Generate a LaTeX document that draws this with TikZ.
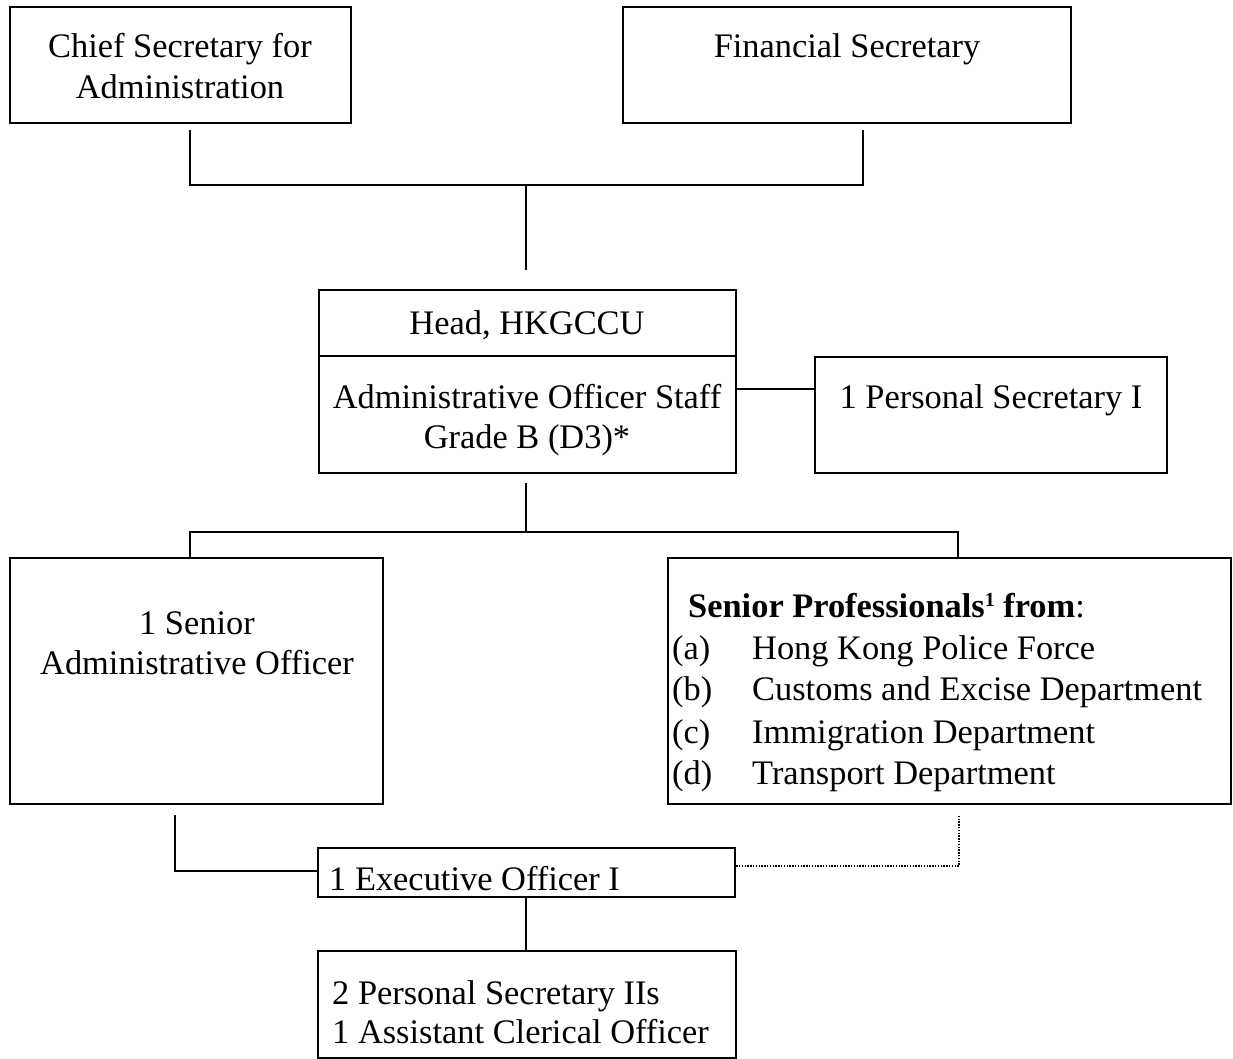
\documentclass[tikz,border=0pt]{standalone}
\usepackage{fontspec}
\setmainfont{Liberation Serif}
\usetikzlibrary{fit}
\begin{document}
\begin{tikzpicture}[x=1pt,y=-1pt,
  orgbox/.style={draw, line width=2.4pt, inner sep=0pt},
  conn/.style={line width=1.5pt},
  dotconn/.style={line width=1.4pt, dash pattern=on 1.4pt off 1.4pt},
  lbl/.style={anchor=base, inner sep=0pt, font=\fontsize{34.4}{40}\selectfont},
  lblw/.style={anchor=base west, inner sep=0pt, font=\fontsize{34.4}{40}\selectfont}]
\useasboundingbox (0,0) rectangle (1233,1059);

% boxes
\node[orgbox, fit={(10,7) (351,123)}] (cs) {};
\node[orgbox, fit={(623,7) (1071,123)}] (fs) {};
\node[orgbox, fit={(319,290) (736,356)}] (headtop) {};
\node[orgbox, fit={(319,356) (736,473)}] (headbot) {};
\node[orgbox, fit={(815,357) (1167,473)}] (ps) {};
\node[orgbox, fit={(10,558) (383,804)}] (sao) {};
\node[orgbox, fit={(668,558) (1231,804)}] (sp) {};
\node[orgbox, fit={(318,848) (735,897)}] (eo) {};
\node[orgbox, fit={(318,951) (736,1058)}] (bot) {};

% texts
\node[lbl] (t1) at (180,58) {Chief Secretary for};
\node[lbl] (t2) at (180,99) {Administration};
\node[lbl] (t3) at (847,58) {Financial Secretary};
\node[lbl] (t4) at (527,334) {Head, HKGCCU};
\node[lbl] (t5) at (527,408) {Administrative Officer Staff};
\node[lbl] (t6) at (527,448) {Grade B (D3)*};
\node[lbl] (t7) at (991,408) {1 Personal Secretary I};
\node[lbl] (t8) at (197,634) {1 Senior};
\node[lbl] (t9) at (197,674) {Administrative Officer};
\node[lblw] (t10) at (688,617) {\textbf{Senior Professionals\raisebox{11pt}{\fontsize{20}{20}\selectfont 1} from}:};
\node[lblw] (t11a) at (672,659) {(a)};
\node[lblw] (t11) at (752,659) {Hong Kong Police Force};
\node[lblw] (t12a) at (672,700) {(b)};
\node[lblw] (t12) at (752,700) {Customs and Excise Department};
\node[lblw] (t13a) at (672,743) {(c)};
\node[lblw] (t13) at (752,743) {Immigration Department};
\node[lblw] (t14a) at (672,784) {(d)};
\node[lblw] (t14) at (752,784) {Transport Department};
\node[lblw] (t15) at (329,890) {1 Executive Officer I};
\node[lblw] (t16) at (332,1004) {2 Personal Secretary IIs};
\node[lblw] (t17) at (332,1043) {1 Assistant Clerical Officer};

% junction coordinates
\coordinate (csdown) at (190,130);
\coordinate (fsdown) at (863,130);
\coordinate (topbar) at (526,185);
\coordinate (headup) at (526,270);
\coordinate (headdown) at (526,483);
\coordinate (midbar) at (526,532);
\coordinate (saodown) at (175,815);
\coordinate (spdown) at (959,815);

% connectors
\draw[conn] (csdown) -- (csdown |- topbar) -- (fsdown |- topbar) -- (fsdown);
\draw[conn] (topbar) -- (headup);
\draw[conn] (headbot.east |- 0,389) -- (ps.west |- 0,389);
\draw[conn] (headdown) -- (midbar);
\draw[conn] (sao.north -| 190,0) -- (190,532) -- (958,532) -- (sp.north -| 958,0);
\draw[conn] (saodown) -- (saodown |- 0,871) -- (eo.west |- 0,871);
\draw[dotconn] (eo.east |- 0,866) -- (spdown |- 0,866) -- (spdown);
\draw[conn] (eo.south -| 526,0) -- (bot.north -| 526,0);
\end{tikzpicture}
\end{document}
